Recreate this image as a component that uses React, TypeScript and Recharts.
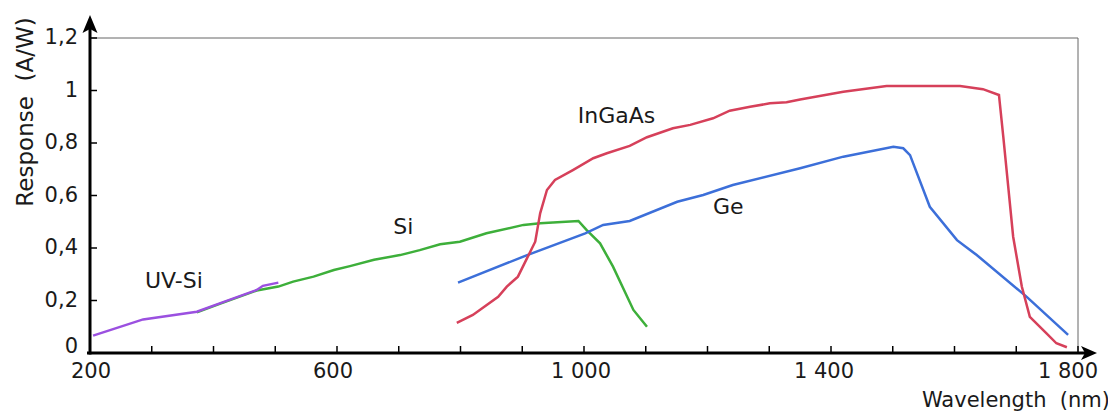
import { LineChart, Line, XAxis, YAxis, ReferenceLine, ReferenceDot } from 'recharts'

// wavelength (nm) / response (A/W)
const uvSi = [
  { x: 205, y: 0.066 },
  { x: 286, y: 0.128 },
  { x: 373, y: 0.157 },
  { x: 410, y: 0.189 },
  { x: 470, y: 0.24 },
  { x: 480, y: 0.256 },
  { x: 505, y: 0.268 },
]

const si = [
  { x: 373, y: 0.155 },
  { x: 410, y: 0.187 },
  { x: 470, y: 0.238 },
  { x: 505, y: 0.253 },
  { x: 529, y: 0.272 },
  { x: 562, y: 0.291 },
  { x: 595, y: 0.316 },
  { x: 621, y: 0.331 },
  { x: 660, y: 0.355 },
  { x: 702, y: 0.373 },
  { x: 734, y: 0.392 },
  { x: 767, y: 0.414 },
  { x: 799, y: 0.424 },
  { x: 842, y: 0.456 },
  { x: 902, y: 0.488 },
  { x: 929, y: 0.494 },
  { x: 991, y: 0.503 },
  { x: 1004, y: 0.469 },
  { x: 1026, y: 0.418 },
  { x: 1047, y: 0.329 },
  { x: 1080, y: 0.164 },
  { x: 1102, y: 0.1 },
]

const ge = [
  { x: 796, y: 0.268 },
  { x: 908, y: 0.373 },
  { x: 1002, y: 0.456 },
  { x: 1031, y: 0.488 },
  { x: 1074, y: 0.503 },
  { x: 1151, y: 0.576 },
  { x: 1193, y: 0.602 },
  { x: 1241, y: 0.64 },
  { x: 1350, y: 0.704 },
  { x: 1420, y: 0.748 },
  { x: 1501, y: 0.786 },
  { x: 1517, y: 0.78 },
  { x: 1528, y: 0.754 },
  { x: 1560, y: 0.557 },
  { x: 1604, y: 0.43 },
  { x: 1636, y: 0.373 },
  { x: 1717, y: 0.214 },
  { x: 1784, y: 0.069 },
]

const ingaas = [
  { x: 794, y: 0.115 },
  { x: 820, y: 0.145 },
  { x: 861, y: 0.214 },
  { x: 875, y: 0.253 },
  { x: 893, y: 0.291 },
  { x: 909, y: 0.367 },
  { x: 921, y: 0.424 },
  { x: 929, y: 0.532 },
  { x: 940, y: 0.621 },
  { x: 953, y: 0.659 },
  { x: 982, y: 0.697 },
  { x: 1015, y: 0.742 },
  { x: 1037, y: 0.761 },
  { x: 1074, y: 0.789 },
  { x: 1102, y: 0.822 },
  { x: 1144, y: 0.856 },
  { x: 1172, y: 0.869 },
  { x: 1209, y: 0.894 },
  { x: 1236, y: 0.923 },
  { x: 1269, y: 0.938 },
  { x: 1301, y: 0.951 },
  { x: 1328, y: 0.955 },
  { x: 1350, y: 0.966 },
  { x: 1420, y: 0.995 },
  { x: 1490, y: 1.017 },
  { x: 1609, y: 1.017 },
  { x: 1646, y: 1.005 },
  { x: 1672, y: 0.983 },
  { x: 1679, y: 0.824 },
  { x: 1687, y: 0.634 },
  { x: 1695, y: 0.443 },
  { x: 1709, y: 0.253 },
  { x: 1722, y: 0.138 },
  { x: 1749, y: 0.075 },
  { x: 1765, y: 0.037 },
  { x: 1782, y: 0.022 },
]

const xTicks = [200, 300, 400, 500, 600, 700, 800, 900, 1000, 1100, 1200, 1300, 1400, 1500, 1600, 1700, 1800]
const xLabeled = [200, 600, 1000, 1400, 1800]
const yTicks = [0, 0.2, 0.4, 0.6, 0.8, 1, 1.2]

const seriesLabels = [
  { name: 'UV-Si', x: 289, y: 0.248 },
  { name: 'Si', x: 691, y: 0.453 },
  { name: 'InGaAs', x: 990, y: 0.876 },
  { name: 'Ge', x: 1209, y: 0.53 },
]

const FONT = '"DejaVu Sans", sans-serif'
const TXT = '#1a1a1a'

// small nudges so the labels sit where the original put them
const xLabelShift: Record<number, number> = { 200: 1, 600: -4, 1000: -3, 1400: -7, 1800: -10 }

const fmtX = (v: number) => (v >= 1000 ? `${Math.floor(v / 1000)} ${String(v % 1000).padStart(3, '0')}` : String(v))
const fmtY = (v: number) => (v === 0 || v === 1 ? String(v) : v.toFixed(1).replace('.', ','))

function XTick(props: any) {
  const { x, y, payload } = props
  const v = payload.value
  return (
    <g>
      {v !== 200 && <line x1={x} y1={y} x2={x} y2={y - 7} stroke="#000" strokeWidth={1.5} />}
      {xLabeled.includes(v) && (
        <text x={x + (xLabelShift[v] || 0)} y={y + 25} textAnchor="middle" fontFamily={FONT} fontSize={21} fill={TXT}>
          {fmtX(v)}
        </text>
      )}
    </g>
  )
}

function YTick(props: any) {
  const { x, y, payload } = props
  const v = payload.value
  return (
    <g>
      {v !== 0 && <line x1={x} y1={y} x2={x + 7} y2={y} stroke="#000" strokeWidth={1.5} />}
      <text x={x - 12} y={v === 0 ? y : y + 6} textAnchor="end" fontFamily={FONT} fontSize={21} fill={TXT}>
        {fmtY(v)}
      </text>
    </g>
  )
}

function XArrow(p: any) {
  const y = p.y1
  const xl = Math.min(p.x1, p.x2)
  const xr = Math.max(p.x1, p.x2)
  return (
    <g>
      <line x1={xl - 3} y1={y} x2={xr + 12} y2={y} stroke="#000" strokeWidth={3} />
      <path d={`M${xr + 19},${y} L${xr + 3},${y - 7} L${xr + 7},${y} L${xr + 3},${y + 7} Z`} fill="#000" />
    </g>
  )
}

function YArrow(p: any) {
  const x = p.x1
  const yt = Math.min(p.y1, p.y2)
  const yb = Math.max(p.y1, p.y2)
  return (
    <g>
      <line x1={x} y1={yb + 1.5} x2={x} y2={yt - 12} stroke="#000" strokeWidth={3} />
      <path d={`M${x},${yt - 23} L${x + 7.5},${yt - 5} L${x},${yt - 9} L${x - 7.5},${yt - 5} Z`} fill="#000" />
    </g>
  )
}

export default function App() {
  return (
    <div style={{ width: 1108, height: 404 }}>
      <LineChart
        width={1108}
        height={404}
        margin={{ top: 30, right: 38, left: 0, bottom: 29 }}
        style={{ overflow: 'visible' }}
      >
        <XAxis
          type="number"
          dataKey="x"
          domain={[200, 1800]}
          ticks={xTicks}
          interval={0}
          height={30}
          axisLine={false}
          tickLine={false}
          tickSize={0}
          tickMargin={0}
          tick={<XTick />}
          label={(lp: any) => {
            const vb = lp.viewBox
            return (
              <text
                x={vb.x + vb.width + 32}
                y={vb.y + 54}
                textAnchor="end"
                fontFamily={FONT}
                fontSize={21}
                fill={TXT}
              >
                {'Wavelength\u00a0 (nm)'}
              </text>
            )
          }}
        />
        <YAxis
          type="number"
          dataKey="y"
          domain={[0, 1.2]}
          ticks={yTicks}
          interval={0}
          width={82}
          axisLine={false}
          tickLine={false}
          tickSize={0}
          tickMargin={0}
          tick={<YTick />}
          label={(lp: any) => {
            const vb = lp.viewBox
            const cx = 25
            const cy = vb.y + 74
            return (
              <text
                x={cx}
                y={cy}
                transform={`rotate(-90 ${cx} ${cy})`}
                textAnchor="middle"
                fontFamily={FONT}
                fontSize={23}
                fill={TXT}
              >
                {'Response\u00a0 (A/W)'}
              </text>
            )
          }}
        />
        <ReferenceLine y={1.2} stroke="#666" strokeWidth={1} ifOverflow="visible" />
        <ReferenceLine x={1800} stroke="#666" strokeWidth={1} ifOverflow="visible" />
        <Line data={si} dataKey="y" type="linear" stroke="#3DAF3A" strokeWidth={2.5} dot={false} isAnimationActive={false} />
        <Line data={uvSi} dataKey="y" type="linear" stroke="#9B50E0" strokeWidth={2.5} dot={false} isAnimationActive={false} />
        <Line data={ge} dataKey="y" type="linear" stroke="#3C6FD9" strokeWidth={2.5} dot={false} isAnimationActive={false} />
        <Line data={ingaas} dataKey="y" type="linear" stroke="#D6405A" strokeWidth={2.5} dot={false} isAnimationActive={false} />
        <ReferenceLine y={0} ifOverflow="visible" shape={<XArrow />} />
        <ReferenceLine x={200} ifOverflow="visible" shape={<YArrow />} />
        {seriesLabels.map((s) => (
          <ReferenceDot
            key={s.name}
            x={s.x}
            y={s.y}
            r={0}
            ifOverflow="visible"
            shape={(p: any) => (
              <text x={p.cx} y={p.cy} fontFamily={FONT} fontSize={22} fill={TXT}>
                {s.name}
              </text>
            )}
          />
        ))}
      </LineChart>
    </div>
  )
}
